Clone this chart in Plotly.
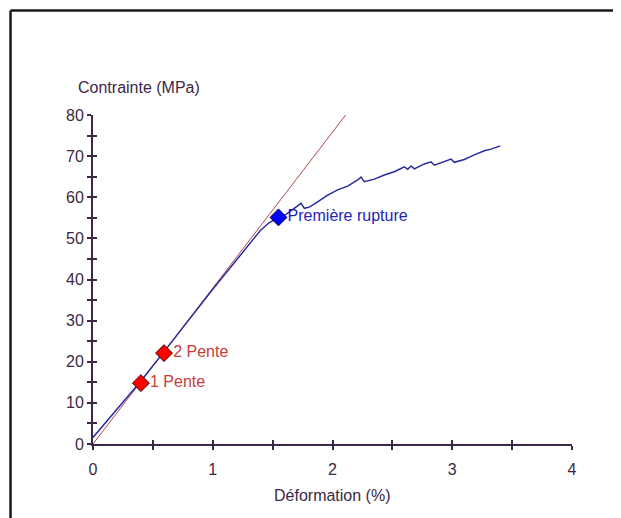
import plotly.graph_objects as go

# ---- data ----
strain_blue = [0.0, 0.1, 0.2, 0.4, 0.6, 0.8, 1.0, 1.2, 1.3, 1.4, 1.47, 1.55,
               1.612, 1.681, 1.737, 1.765, 1.806, 1.876, 1.960, 2.043, 2.127,
               2.210, 2.238, 2.266, 2.349, 2.433, 2.516, 2.600, 2.628, 2.656,
               2.683, 2.767, 2.823, 2.850, 2.934, 2.990, 3.017, 3.101, 3.184,
               3.268, 3.324, 3.401]
stress_blue = [1.6, 5.0, 8.3, 15.3, 22.7, 30.2, 37.6, 44.8, 48.5, 52.0, 53.8, 55.1,
               55.85, 57.3, 58.5, 57.3, 57.6, 58.9, 60.5, 61.8, 62.7,
               64.2, 64.9, 63.8, 64.4, 65.4, 66.2, 67.4, 66.8, 67.6,
               66.9, 68.1, 68.6, 67.8, 68.6, 69.3, 68.5, 69.2, 70.3,
               71.3, 71.7, 72.5]
strain_red = [0.0, 2.11]
stress_red = [0.0, 80.0]
pente_strain = [0.40, 0.593]
pente_stress = [14.8, 22.1]
pente_labels = ["1 Pente", "2 Pente"]
rupture_strain = [1.549]
rupture_stress = [55.1]
rupture_labels = ["Première rupture"]
x_tick_vals = [0, 1, 2, 3, 4]
x_tick_text = ["0", "1", "2", "3", "4"]
y_tick_vals = [0, 10, 20, 30, 40, 50, 60, 70, 80]
y_tick_text = ["0", "10", "20", "30", "40", "50", "60", "70", "80"]

AX = "#3c2846"
FONT = "Liberation Sans, Arial, sans-serif"

fig = go.Figure()
fig.add_trace(go.Scatter(x=strain_red, y=stress_red, mode="lines",
                         line=dict(color="#b04848", width=1), showlegend=False))
fig.add_trace(go.Scatter(x=strain_blue, y=stress_blue, mode="lines",
                         line=dict(color="#2a2aa0", width=1.5), showlegend=False))
fig.add_trace(go.Scatter(x=pente_strain, y=pente_stress, mode="markers+text",
                         text=pente_labels, textposition="middle right",
                         textfont=dict(color="#c83c3c", size=16, family=FONT),
                         marker=dict(symbol="diamond", size=13, color="#ff0000",
                                     line=dict(color="#400000", width=1)),
                         showlegend=False))
fig.add_trace(go.Scatter(x=rupture_strain, y=rupture_stress, mode="markers+text",
                         text=rupture_labels, textposition="middle right",
                         textfont=dict(color="#2424b4", size=16, family=FONT),
                         marker=dict(symbol="diamond", size=13, color="#0000ff",
                                     line=dict(color="#000040", width=1)),
                         showlegend=False))
# overlay subplot only used to draw the inner half of the crossing ticks
fig.add_trace(go.Scatter(x=[], y=[], xaxis="x2", yaxis="y2", showlegend=False,
                         hoverinfo="skip"))

fig.update_layout(
    width=613, height=510,
    margin=dict(l=85, r=49, t=107, b=74),
    paper_bgcolor="white", plot_bgcolor="white",
    font=dict(family=FONT, size=15, color=AX),
    xaxis=dict(range=[0, 4], showgrid=False, zeroline=False,
               showline=True, linecolor=AX, linewidth=2,
               tickmode="array", tickvals=x_tick_vals, ticktext=x_tick_text,
               ticks="outside", ticklen=4, tickwidth=1.5, tickcolor=AX,
               ticklabelstandoff=6,
               minor=dict(ticks="outside", dtick=0.5, ticklen=4, tickwidth=1.5,
                          tickcolor=AX),
               tickfont=dict(size=16, color=AX)),
    yaxis=dict(range=[0, 80], showgrid=False, zeroline=False,
               showline=True, linecolor=AX, linewidth=2,
               tickmode="array", tickvals=y_tick_vals, ticktext=y_tick_text,
               ticks="outside", ticklen=4, tickwidth=1.5, tickcolor=AX,
               minor=dict(ticks="outside", dtick=5, ticklen=4, tickwidth=1.5,
                          tickcolor=AX),
               tickfont=dict(size=16, color=AX)),
    xaxis2=dict(range=[0, 4], overlaying="x", anchor="y2", side="bottom",
                showgrid=False, zeroline=False, showline=False,
                ticks="inside", dtick=0.5, ticklen=4, tickwidth=1.5,
                tickcolor=AX, showticklabels=False),
    yaxis2=dict(range=[0, 80], overlaying="y", anchor="x2", side="left",
                showgrid=False, zeroline=False, showline=False,
                ticks="inside", dtick=5, ticklen=4, tickwidth=1.5,
                tickcolor=AX, showticklabels=False),
)

# axis titles
fig.add_annotation(text="Contrainte (MPa)", xref="paper", yref="paper",
                   x=-0.036, y=1.085, xanchor="left", yanchor="middle",
                   showarrow=False, font=dict(size=16, color=AX, family=FONT))
fig.add_annotation(text="Déformation (%)", xref="paper", yref="paper",
                   x=0.499, y=-0.158, xanchor="center", yanchor="middle",
                   showarrow=False, font=dict(size=16, color=AX, family=FONT))

# outer frame (left and top edges)
fig.add_shape(type="line", xref="paper", yref="paper",
              x0=-0.1722, x1=-0.1722, y0=1.3176, y1=-0.3,
              line=dict(color="#1a1a1a", width=2.5))
fig.add_shape(type="line", xref="paper", yref="paper",
              x0=-0.1722, x1=1.2, y0=1.3176, y1=1.3176,
              line=dict(color="#1a1a1a", width=2.5))

fig.write_html("out.html", config={"displayModeBar": False})
